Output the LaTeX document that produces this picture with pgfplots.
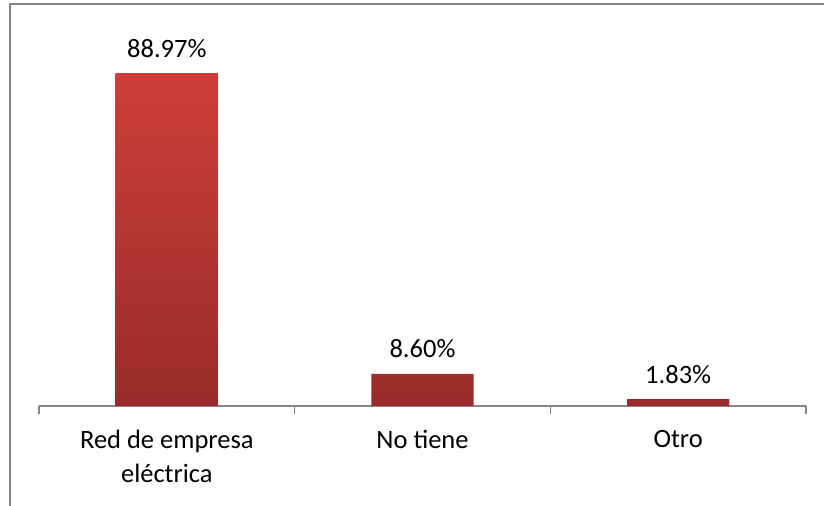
\documentclass[border=0pt]{standalone}
\usepackage{fontspec}
\setmainfont{Carlito}
\usepackage{pgfplots}
\pgfplotsset{compat=1.18}
\definecolor{bartop}{RGB}{206,62,58}
\definecolor{barbot}{RGB}{152,44,42}
\definecolor{axgray}{RGB}{134,134,134}
\begin{document}
\fontsize{13.25}{17}\selectfont
\begin{tikzpicture}
\useasboundingbox (-19.5pt,-50pt) rectangle (392.5pt,203pt);
\draw[axgray, line width=1pt] (-14.5pt,-50pt) -- (-14.5pt,201pt) -- (392.5pt,201pt);
\begin{axis}[
  at={(0,0)}, anchor=south west,
  scale only axis,
  width=383.5pt, height=187.1pt,
  xmin=-0.5, xmax=2.5, ymin=0, ymax=100,
  axis x line*=bottom,
  hide y axis,
  axis line style={axgray, line width=0.8pt},
  xtick={0,1,2},
  xticklabels={{Red de empresa\\eléctrica},{No tiene},{Otro}},
  major tick length=0pt,
  minor xtick={-0.5,0.5,1.5,2.5},
  minor tick length=4pt,
  tick align=outside,
  tick style={axgray, line width=0.8pt},
  xticklabel style={align=center, anchor=north, yshift=-7.5pt, font=\fontsize{13.25}{17}\selectfont},
  ybar, bar width=0.4,
  point meta=explicit symbolic,
  nodes near coords,
  every node near coord/.append style={anchor=base, yshift=8pt, font=\fontsize{13.25}{17}\selectfont, text=black},
  clip=false,
]
\addplot[draw=none, top color=bartop, bottom color=barbot] coordinates {
  (0,88.97) [88.97\%]
  (1,8.60) [8.60\%]
  (2,1.83) [1.83\%]
};
\end{axis}
\end{tikzpicture}
\end{document}
